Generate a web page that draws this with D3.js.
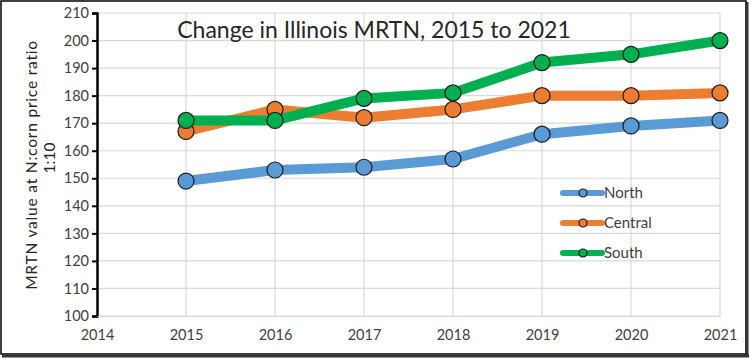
<!DOCTYPE html>
<html><head><meta charset="utf-8">
<script src="https://cdn.jsdelivr.net/npm/d3@7"></script>
<style>body{margin:0;background:#fff}svg{display:block}text{font-family:Lato,"Open Sans",sans-serif}</style>
</head><body><svg id="c" width="750" height="358"></svg>
<script>
const years = [2015, 2016, 2017, 2018, 2019, 2020, 2021];
const north = [149, 153, 154, 157, 166, 169, 171];
const central = [167, 175, 172, 175, 180, 180, 181];
const south = [171, 171, 179, 181, 192, 195, 200];
const seriesNames = ["North", "Central", "South"];
const seriesColors = ["#5B9BD5", "#ED7D31", "#00B050"];
const xTicks = [2014, 2015, 2016, 2017, 2018, 2019, 2020, 2021];
const yTicks = [100,110,120,130,140,150,160,170,180,190,200,210];
const title = "Change in Illinois MRTN, 2015 to 2021";
const yLabel1 = "MRTN  value at N:corn price ratio";
const yLabel2 = "1:10";

const svg = d3.select("#c");
const x = d3.scaleLinear().domain([2014, 2021]).range([97, 720]);
const y = d3.scaleLinear().domain([100, 210]).range([316, 13]);

// border
svg.append("rect").attr("x",1).attr("y",1).attr("width",745).attr("height",353).attr("fill","none").attr("stroke","#000").attr("stroke-width",1.5);
svg.append("line").attr("x1",747).attr("x2",747).attr("y1",2).attr("y2",357).attr("stroke","#333").attr("stroke-width",3);
svg.append("line").attr("x1",2).attr("x2",749).attr("y1",356).attr("y2",356).attr("stroke","#333").attr("stroke-width",3);

// gridlines
const g = svg.append("g");
g.selectAll("line.h").data(yTicks).join("line").attr("x1",97).attr("x2",720)
  .attr("y1",d=>y(d)).attr("y2",d=>y(d)).attr("stroke","#d9d9d9").attr("stroke-width",1.2);
g.selectAll("line.v").data(xTicks.slice(1)).join("line").attr("y1",y(210)).attr("y2",y(100))
  .attr("x1",d=>x(d)).attr("x2",d=>x(d)).attr("stroke","#d9d9d9").attr("stroke-width",1.2);

// y axis
const ya = svg.append("g").attr("transform","translate(97,0)")
  .call(d3.axisLeft(y).tickValues(yTicks).tickSize(5).tickPadding(3));
ya.select(".domain").attr("stroke","#000").attr("stroke-width",2.5);
ya.selectAll(".tick line").attr("stroke","#000").attr("stroke-width",2);
ya.selectAll(".tick text").attr("font-size",14.5).attr("fill","#404040").style("font-family","Lato,sans-serif");

// x axis
const xa = svg.append("g").attr("transform","translate(0,"+y(100)+")")
  .call(d3.axisBottom(x).tickValues(xTicks).tickFormat(d3.format("d")).tickSize(0).tickPadding(14));
xa.select(".domain").attr("stroke","#d9d9d9").attr("stroke-width",1.2);
xa.selectAll(".tick text").attr("font-size",14.5).attr("fill","#404040").style("font-family","Lato,sans-serif");

// lines
const data = [north, central, south];
const line = d3.line().x((d,i)=>x(years[i])).y(d=>y(d));
data.forEach((vals,k)=>{
  svg.append("path").datum(vals).attr("d",line).attr("fill","none")
    .attr("stroke",seriesColors[k]).attr("stroke-width",10).attr("stroke-linejoin","round");
});
data.forEach((vals,k)=>{
  svg.append("g").selectAll("circle").data(vals).join("circle")
    .attr("cx",(d,i)=>x(years[i])).attr("cy",d=>y(d)).attr("r",8)
    .attr("fill",seriesColors[k]).attr("stroke","#1a1a1a").attr("stroke-width",1.2);
});

// title
svg.append("text").attr("x",374).attr("y",38).attr("text-anchor","middle")
  .attr("font-size",23).attr("fill","#262626").text(title);

// y label
svg.append("text").attr("transform","translate(37,165) rotate(-90)").attr("text-anchor","middle")
  .attr("font-size",15.5).attr("letter-spacing",0.8).attr("fill","#262626").text(yLabel1);
svg.append("text").attr("transform","translate(55,158) rotate(-90)").attr("text-anchor","middle")
  .attr("font-size",15.5).attr("fill","#262626").text(yLabel2);

// legend
const lg = svg.append("g");
seriesNames.forEach((n,k)=>{
  const yy = 193 + k*30;
  lg.append("line").attr("x1",563).attr("x2",602).attr("y1",yy).attr("y2",yy)
    .attr("stroke",seriesColors[k]).attr("stroke-width",6).attr("stroke-linecap","round");
  lg.append("circle").attr("cx",583).attr("cy",yy).attr("r",4)
    .attr("fill",seriesColors[k]).attr("stroke","#1a1a1a").attr("stroke-width",1.2);
  lg.append("text").attr("x",604).attr("y",yy+5).attr("font-size",15).attr("fill","#404040").text(n);
});
</script></body></html>
